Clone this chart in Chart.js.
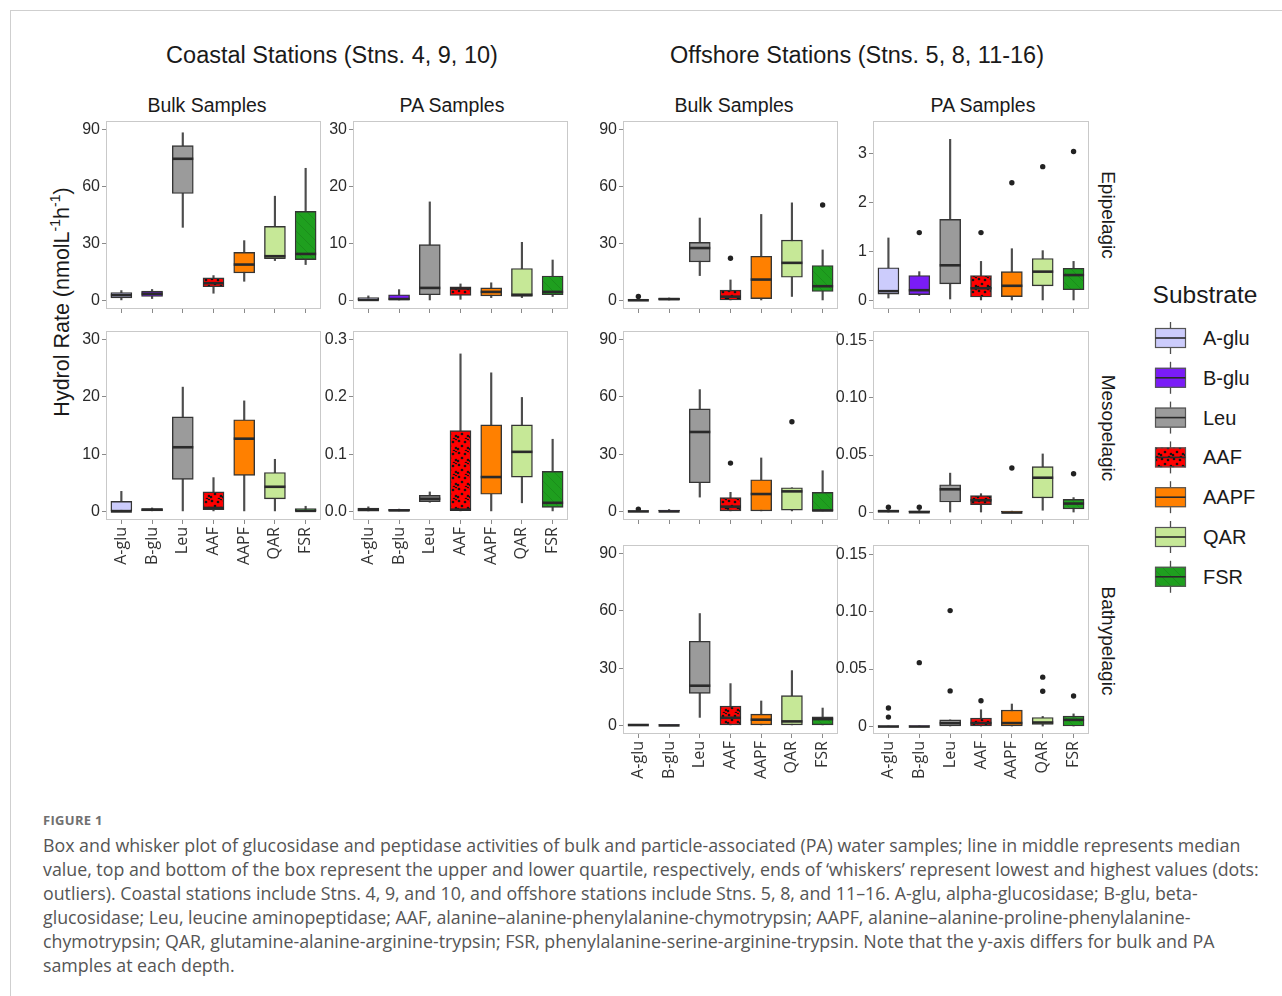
<!DOCTYPE html>
<html>
<head>
<meta charset="utf-8">
<script src="https://cdn.jsdelivr.net/npm/chart.js@4.4.1/dist/chart.umd.min.js"></script>
<style>
  html, body { margin: 0; padding: 0; background: #fff; }
  body { width: 1282px; height: 996px; position: relative; overflow: hidden;
         font-family: "Liberation Sans", Arial, sans-serif; color: #1a1a1a; }
  .sheet { position: absolute; left: 10px; top: 10px; width: 1300px; height: 1000px;
           border-top: 1px solid #cfcfcf; border-left: 1px solid #cfcfcf; }
  .t { position: absolute; transform: translate(-50%, -50%); white-space: nowrap; }
  .rot-up { transform: translate(-50%, -50%) rotate(-90deg); }
  .rot-down { transform: translate(-50%, -50%) rotate(90deg); }
  canvas { position: absolute; }
  .leg { position: absolute; left: 1203px; font-size: 20px; transform: translateY(-50%); white-space: nowrap; }
  .caption { position: absolute; left: 43px; top: 808px; font-family: "Open Sans", "Noto Sans", sans-serif;
             color: #555; font-size: 17.8px; line-height: 24px; }
  .caption .fig { font-weight: bold; font-size: 13px; letter-spacing: 0.3px; color: #707070; margin-bottom: 1px; line-height: 24px; }
  .caption div { white-space: nowrap; }
</style>
</head>
<body>
<div class="sheet"></div>

<div class="t" style="left:332px; top:55px; font-size:23.5px;">Coastal Stations (Stns. 4, 9, 10)</div>
<div class="t" style="left:857px; top:55px; font-size:23.5px;">Offshore Stations (Stns. 5, 8, 11-16)</div>
<div class="t" style="left:207px; top:105px; font-size:19.5px;">Bulk Samples</div>
<div class="t" style="left:452px; top:105px; font-size:19.5px;">PA Samples</div>
<div class="t" style="left:734px; top:105px; font-size:19.5px;">Bulk Samples</div>
<div class="t" style="left:983px; top:105px; font-size:19.5px;">PA Samples</div>

<div class="t rot-up" style="left:61px; top:302px; font-size:21.5px;">Hydrol Rate (nmolL<sup style="font-size:14px;">-1</sup>h<sup style="font-size:14px;">-1</sup>)</div>

<div class="t rot-down" style="left:1108px; top:215px; font-size:19px;">Epipelagic</div>
<div class="t rot-down" style="left:1108px; top:428px; font-size:19px;">Mesopelagic</div>
<div class="t rot-down" style="left:1108px; top:641px; font-size:19px;">Bathypelagic</div>

<div class="t" style="left:1205px; top:295px; font-size:24.5px;">Substrate</div>
<canvas id="legendKeys" width="46" height="290" style="left:1148px; top:313px; width:46px; height:290px;"></canvas>
<div id="legendLabels"></div>

<div class="caption">
  <div class="fig">FIGURE 1</div>
  <div>Box and whisker plot of glucosidase and peptidase activities of bulk and particle-associated (PA) water samples; line in middle represents median</div>
  <div>value, top and bottom of the box represent the upper and lower quartile, respectively, ends of ‘whiskers’ represent lowest and highest values (dots:</div>
  <div>outliers). Coastal stations include Stns. 4, 9, and 10, and offshore stations include Stns. 5, 8, and 11–16. A-glu, alpha-glucosidase; B-glu, beta-</div>
  <div>glucosidase; Leu, leucine aminopeptidase; AAF, alanine–alanine-phenylalanine-chymotrypsin; AAPF, alanine–alanine-proline-phenylalanine-</div>
  <div>chymotrypsin; QAR, glutamine-alanine-arginine-trypsin; FSR, phenylalanine-serine-arginine-trypsin. Note that the y-axis differs for bulk and PA</div>
  <div>samples at each depth.</div>
</div>

<script>
// Substrates shown on every panel's x axis
const substrates = ['A-glu', 'B-glu', 'Leu', 'AAF', 'AAPF', 'QAR', 'FSR'];
const boxFills = ['#ccccfc', '#7a1cf7', '#9b9b9b', '#ff0000', '#ff8000', '#c6e897', '#1f9f1f'];

// Five-number summaries per substrate: [min, lower quartile, median, upper quartile, max]
const coastalBulkEpi = [
  [0.3, 1.4, 2.8, 4.2, 5.2], [1.0, 2.1, 3.5, 4.9, 5.8], [38.5, 56.3, 74.6, 81.5, 88.3],
  [3.8, 7.2, 9.1, 11.9, 13.1], [10.1, 14.5, 18.9, 25.3, 31.5], [21.0, 22.0, 23.3, 39.0, 54.9],
  [18.9, 21.5, 24.5, 46.9, 69.6]];
const coastalPaEpi = [
  [0, 0, 0.1, 0.5, 0.8], [0, 0, 0.25, 1.0, 1.9], [0, 1.0, 2.2, 9.8, 17.3],
  [0.2, 0.9, 2.1, 2.4, 2.9], [0.5, 0.8, 1.5, 2.2, 3.1], [0.5, 0.7, 1.0, 5.6, 10.2],
  [0.7, 1.0, 1.5, 4.3, 7.1]];
const coastalBulkMeso = [
  [0, 0, 0, 1.75, 3.5], [0.1, 0.1, 0.3, 0.5, 0.6], [0, 5.6, 11.2, 16.5, 21.7],
  [0, 0.3, 0.6, 3.4, 5.9], [0, 6.3, 12.7, 16.0, 19.3], [0, 2.2, 4.3, 6.8, 9.1],
  [0, 0, 0.1, 0.5, 0.9]];
const coastalPaMeso = [
  [0, 0.0006, 0.003, 0.006, 0.008], [0, 0, 0.0018, 0.0035, 0.004], [0.016, 0.017, 0.022, 0.028, 0.034],
  [0, 0.0018, 0.003, 0.141, 0.275], [0, 0.030, 0.060, 0.151, 0.242], [0.015, 0.060, 0.104, 0.151, 0.199],
  [0, 0.007, 0.015, 0.070, 0.126]];
const offshoreBulkEpi = [
  [0, 0, 0.1, 0.3, 0.5], [0, 0, 0.7, 1.2, 1.3], [13.1, 20.3, 27.6, 30.6, 43.4],
  [0, 0, 2.0, 5.4, 10.8], [0, 1.0, 11.0, 23.3, 45.3], [2.1, 12.2, 19.8, 31.8, 51.4],
  [0, 4.7, 7.5, 18.4, 26.6]];
const offshorePaEpi = [
  [0.05, 0.13, 0.19, 0.67, 1.28], [0.1, 0.12, 0.21, 0.51, 0.59], [0.03, 0.34, 0.72, 1.66, 3.30],
  [0, 0.07, 0.25, 0.51, 0.8], [0, 0.08, 0.30, 0.59, 1.06], [0, 0.30, 0.59, 0.86, 1.02],
  [0, 0.22, 0.52, 0.66, 0.8]];
const offshoreBulkMeso = [
  [0, 0, 0, 0.3, 0.5], [0, 0, 0, 0.7, 1.0], [7.5, 15.0, 41.6, 53.7, 63.8],
  [0, 0, 2.5, 7.2, 10.0], [0, 0, 9.1, 16.6, 28.0], [0, 0.7, 10.5, 12.4, 12.4],
  [0, 0.3, 0.5, 10.0, 21.3]];
const offshorePaMeso = [
  [0, 0.0003, 0.0012, 0.002, 0.0026], [0, 0, 0.0003, 0.0014, 0.002], [0, 0.0092, 0.0202, 0.0242, 0.0343],
  [0, 0.0069, 0.0107, 0.0147, 0.0164], [0, 0, 0, 0.0012, 0.0012], [0.002, 0.0127, 0.0303, 0.040, 0.051],
  [0, 0.0032, 0.0078, 0.0115, 0.013]];
const offshoreBulkBathy = [
  [0, 0, 0.2, 0.3, 0.3], [0, 0, 0, 0.3, 0.3], [4.2, 16.8, 20.8, 44.1, 58.6],
  [0, 0, 4.0, 10.1, 21.9], [0, 0, 3.0, 5.9, 12.8], [0, 0, 2.1, 15.6, 28.7],
  [0, 0.3, 3.3, 4.5, 9.1]];
const offshorePaBathy = [
  [0, 0, 0, 0.0006, 0.0006], [0, 0, 0, 0.0006, 0.0006], [0, 0, 0.0029, 0.0058, 0.0058],
  [0, 0, 0.003, 0.0073, 0.0146], [0, 0, 0.003, 0.0143, 0.0196], [0, 0.0018, 0.0035, 0.0079, 0.0088],
  [0, 0, 0.0058, 0.0091, 0.011]];

// Outliers: [substrate, value]
const offshoreBulkEpiOutliers = [['A-glu', 2.1], ['AAF', 22.2], ['FSR', 50.3]];
const offshorePaEpiOutliers = [['B-glu', 1.39], ['AAF', 1.39], ['AAPF', 2.41], ['QAR', 2.74], ['FSR', 3.05]];
const offshoreBulkMesoOutliers = [['A-glu', 1.2], ['AAF', 25.3], ['QAR', 47.0]];
const offshorePaMesoOutliers = [['A-glu', 0.0046], ['B-glu', 0.0046], ['AAPF', 0.0387], ['FSR', 0.0337]];
const offshorePaBathyOutliers = [['A-glu', 0.0082], ['A-glu', 0.0161], ['B-glu', 0.0556], ['Leu', 0.1009],
  ['Leu', 0.031], ['AAF', 0.0225], ['QAR', 0.0430], ['QAR', 0.0307], ['FSR', 0.0266]];

// Y-axis tick values and their printed labels
const ticks0to90 = [0, 30, 60, 90];
const ticks0to30 = [0, 10, 20, 30];
const ticks0to3 = [0, 1, 2, 3];
const ticks0to03 = [0, 0.1, 0.2, 0.3];
const labels0to03 = ['0.0', '0.1', '0.2', '0.3'];
const ticks0to015 = [0, 0.05, 0.10, 0.15];
const labels0to015 = ['0', '0.05', '0.10', '0.15'];

Chart.defaults.font.family = '"Liberation Sans", Arial, sans-serif';

function dotPattern(ctx) {
  const c = document.createElement('canvas');
  c.width = 12; c.height = 12;
  const g = c.getContext('2d');
  g.fillStyle = '#ff0000'; g.fillRect(0, 0, 12, 12);
  g.fillStyle = '#141414';
  [[2, 2], [8, 3], [5, 7], [11, 9], [1, 10], [9, 12], [11, 0]].forEach(([x, y]) => {
    g.beginPath(); g.arc(x, y, 1.35, 0, Math.PI * 2); g.fill();
  });
  return ctx.createPattern(c, 'repeat');
}
function hatchPattern(ctx) {
  const c = document.createElement('canvas');
  c.width = 10; c.height = 10;
  const g = c.getContext('2d');
  g.fillStyle = '#1f9f1f'; g.fillRect(0, 0, 10, 10);
  g.strokeStyle = '#1a851a'; g.lineWidth = 0.7;
  g.beginPath(); g.moveTo(-1, -1); g.lineTo(11, 11); g.stroke();
  return ctx.createPattern(c, 'repeat');
}

// Median line across each box
const medianPlugin = {
  id: 'medians',
  afterDatasetsDraw(chart, args, opts) {
    const meta = chart.getDatasetMeta(1);
    const ys = chart.scales.y;
    const c = chart.ctx;
    c.save();
    c.strokeStyle = '#2a2a2a';
    c.lineWidth = 2.6;
    meta.data.forEach((bar, i) => {
      const y = ys.getPixelForValue(opts.values[i]);
      const half = bar.width / 2;
      c.beginPath(); c.moveTo(bar.x - half, y); c.lineTo(bar.x + half, y); c.stroke();
    });
    c.restore();
  }
};
// Light panel border
const framePlugin = {
  id: 'panelFrame',
  afterDraw(chart) {
    const a = chart.chartArea, c = chart.ctx;
    c.save();
    c.strokeStyle = '#c9c9c9'; c.lineWidth = 1;
    c.strokeRect(Math.round(a.left) + 0.5, Math.round(a.top) + 0.5,
                 Math.round(a.right - a.left) - 1, Math.round(a.bottom - a.top) - 1);
    c.restore();
  }
};

function buildPanel(p) {
  const [x0, y0, x1, y1] = p.frame;
  const padL = 52, padT = 12, padR = 10, xH = p.xLabels ? 80 : 12;
  const w = x1 - x0 + padL + padR, h = y1 - y0 + padT + xH;
  const cv = document.createElement('canvas');
  cv.width = w; cv.height = h;
  Object.assign(cv.style, { left: (x0 - padL) + 'px', top: (y0 - padT) + 'px', width: w + 'px', height: h + 'px' });
  document.body.appendChild(cv);
  const ctx = cv.getContext('2d');
  const fills = boxFills.map((c, i) => i === 3 ? dotPattern(ctx) : i === 6 ? hatchPattern(ctx) : c);
  const gridTicks = { display: true, drawOnChartArea: false, drawTicks: true, tickLength: 4, color: '#8a8a8a', lineWidth: 1 };
  new Chart(ctx, {
    type: 'bar',
    data: {
      labels: substrates,
      datasets: [
        { type: 'scatter', data: (p.outliers || []).map(([s, v]) => ({ x: s, y: v })),
          pointRadius: 2.7, pointBackgroundColor: '#222', pointBorderWidth: 0, order: 0 },
        { data: p.stats.map(s => [s[1], s[3]]), backgroundColor: fills, borderColor: '#353535',
          borderWidth: 1.4, borderSkipped: false, barThickness: 21, grouped: false, order: 1 },
        { data: p.stats.map(s => [s[0], s[4]]), backgroundColor: '#4d4d4d', borderWidth: 0,
          barThickness: 1.5, grouped: false, order: 2 }
      ]
    },
    options: {
      responsive: false, animation: false, devicePixelRatio: 1,
      layout: { padding: { left: 0, top: padT, right: padR, bottom: 0 } },
      plugins: { legend: { display: false }, tooltip: { enabled: false }, medians: { values: p.stats.map(s => s[2]) } },
      scales: {
        x: {
          offset: true,
          grid: Object.assign({ offset: false }, gridTicks),
          border: { display: false },
          ticks: { display: !!p.xLabels, minRotation: 90, maxRotation: 90, autoSkip: false, padding: 3,
                   color: '#333', font: { family: '"Open Sans", "Noto Sans", sans-serif', size: 16 } },
          afterFit: s => { s.height = xH; }
        },
        y: {
          min: p.min, max: p.max,
          grid: gridTicks,
          border: { display: false },
          afterBuildTicks: s => { s.ticks = p.ticks.map(v => ({ value: v })); },
          ticks: { callback: (v, i) => p.labels ? p.labels[i] : String(p.ticks[i]), color: '#2a2a2a',
                   font: { size: 16 }, padding: 2 },
          afterFit: s => { s.width = padL; }
        }
      }
    },
    plugins: [medianPlugin, framePlugin]
  });
}

const panels = [
  { stats: coastalBulkEpi, ticks: ticks0to90, min: -4.5, max: 94.5, frame: [106, 121, 321, 309] },
  { stats: coastalPaEpi, ticks: ticks0to30, min: -1.5, max: 31.5, frame: [353, 121, 568, 309] },
  { stats: coastalBulkMeso, ticks: ticks0to30, min: -1.5, max: 31.5, frame: [106, 331, 321, 520], xLabels: true },
  { stats: coastalPaMeso, ticks: ticks0to03, labels: labels0to03, min: -0.015, max: 0.315, frame: [353, 331, 568, 520], xLabels: true },
  { stats: offshoreBulkEpi, outliers: offshoreBulkEpiOutliers, ticks: ticks0to90, min: -4.5, max: 94.5, frame: [623, 121, 838, 309] },
  { stats: offshorePaEpi, outliers: offshorePaEpiOutliers, ticks: ticks0to3, min: -0.175, max: 3.675, frame: [873, 121, 1089, 309] },
  { stats: offshoreBulkMeso, outliers: offshoreBulkMesoOutliers, ticks: ticks0to90, min: -4.5, max: 94.5, frame: [623, 331, 838, 520] },
  { stats: offshorePaMeso, outliers: offshorePaMesoOutliers, ticks: ticks0to015, labels: labels0to015, min: -0.0065, max: 0.158, frame: [873, 331, 1089, 520] },
  { stats: offshoreBulkBathy, ticks: ticks0to90, min: -4.5, max: 94.5, frame: [623, 545, 838, 734], xLabels: true },
  { stats: offshorePaBathy, outliers: offshorePaBathyOutliers, ticks: ticks0to015, labels: labels0to015, min: -0.0065, max: 0.158, frame: [873, 545, 1089, 734], xLabels: true }
];
panels.forEach(buildPanel);

// Legend keys: miniature boxes with whiskers
(function drawLegend() {
  const cv = document.getElementById('legendKeys');
  const g = cv.getContext('2d');
  const labelsBox = document.getElementById('legendLabels');
  substrates.forEach((name, i) => {
    const cy = 25 + i * 39.8;
    const fill = i === 3 ? dotPattern(g) : i === 6 ? hatchPattern(g) : boxFills[i];
    g.strokeStyle = '#4d4d4d'; g.lineWidth = 1.3;
    g.beginPath(); g.moveTo(22.5, cy - 16); g.lineTo(22.5, cy + 16); g.stroke();
    g.fillStyle = fill; g.fillRect(7, cy - 10, 31, 20);
    g.strokeStyle = '#555'; g.lineWidth = 1.2; g.strokeRect(7.5, cy - 9.5, 30, 19);
    g.strokeStyle = '#2a2a2a'; g.lineWidth = 1.6;
    g.beginPath(); g.moveTo(7.5, cy); g.lineTo(37.5, cy); g.stroke();
    const d = document.createElement('div');
    d.className = 'leg';
    d.style.top = (313 + cy) + 'px';
    d.textContent = name;
    labelsBox.appendChild(d);
  });
})();
</script>
</body>
</html>
